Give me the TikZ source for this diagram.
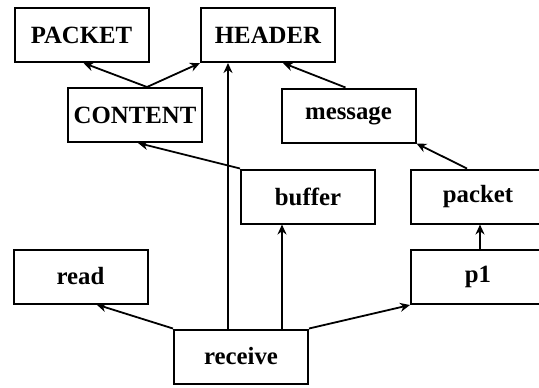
\documentclass[tikz,border=0pt]{standalone}
\usepackage{fontspec}
\setmainfont{Liberation Serif}
\usetikzlibrary{arrows.meta}
\tikzset{
  box/.style={draw, line width=1pt, rectangle, inner sep=0pt,
    minimum width=67pt, minimum height=27pt,
    font=\bfseries\fontsize{12.4}{14}\selectfont},
  arr/.style={line width=0.9pt, -{Stealth[length=5pt,width=4.5pt]}}
}
\begin{document}
\begin{tikzpicture}[x=0.5pt,y=-0.5pt]
\useasboundingbox (0,0) rectangle (539,387);
\clip (0,0) rectangle (539,387);
\node[box] (PACKET) at (81.5,35) {PACKET};
\node[box] (HEADER) at (268,35) {HEADER};
\node[box] (CONTENT) at (135,115) {CONTENT};
\node[box] (message) at (348.5,115.5) {message};
\node[box] (buffer) at (308,196.5) {buffer};
\node[box] (packet) at (478,196.5) {packet};
\node[box] (p1) at (478,277) {p1};
\node[box] (read) at (80.5,276.5) {read};
\node[box] (receive) at (241,356.5) {receive};
% connectors
\coordinate (ct) at ([xshift=6pt]CONTENT.north);
\draw[arr] (ct) -- ([xshift=1pt]PACKET.south);
\draw[arr] (ct) -- (HEADER.south west);
\coordinate (rh) at ([xshift=-6.5pt]receive.north);
\draw[arr] (rh) -- (HEADER.south -| rh);
\draw[arr] (buffer.north west) -- ([xshift=1.5pt]CONTENT.south);
\draw[arr] ([xshift=-1.5pt]message.north) -- ([xshift=7.5pt]HEADER.south);
\draw[arr] ([xshift=-5.5pt]packet.north) -- (message.south east);
\coordinate (rb) at ([xshift=20.5pt]receive.north);
\draw[arr] (rb) -- (buffer.south -| rb);
\draw[arr] (receive.north west) -- ([xshift=8pt]read.south);
\draw[arr] (receive.north east) -- (p1.south west);
\draw[arr] ([xshift=1pt]p1.north) -- ([xshift=1pt]packet.south);
\end{tikzpicture}
\end{document}
